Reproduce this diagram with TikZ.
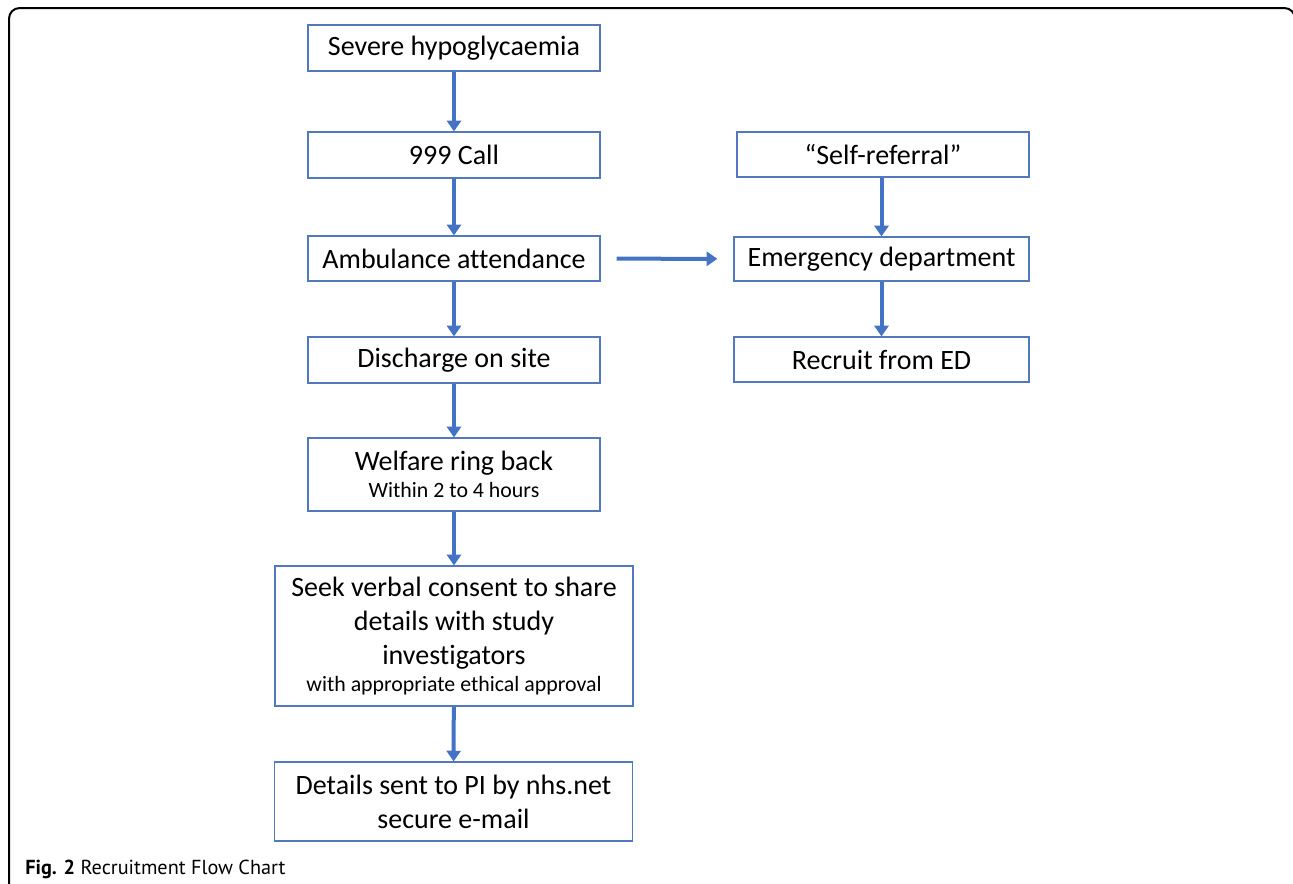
\documentclass[tikz,border=0pt]{standalone}
\usepackage{fontspec}
\setmainfont{Carlito}[Ligatures={TeX,NoCommon}]
\newfontfamily\capfont{PT Sans}
\usetikzlibrary{arrows.meta,positioning}
\definecolor{flowBlue}{RGB}{68,114,196}
\definecolor{boxLine}{RGB}{82,120,190}
\newcommand{\subtxt}{\fontsize{16.4}{18}\selectfont}
\tikzset{recpanel/.style={
  x=0.75pt, y=-0.75pt,
  box/.style={draw=boxLine, line width=0.9pt, fill=white, inner sep=0pt, align=center,
              font=\fontsize{21}{25.5}\selectfont, minimum width=219pt, minimum height=34.5pt},
  flow/.style={-{Triangle[length=8pt, width=10.5pt]}, line width=3pt, flowBlue},
  frame/.style={line width=1.5pt, rounded corners=8pt},
}}

\begin{document}
\begin{tikzpicture}[recpanel]
\useasboundingbox (0,0) rectangle (1293,883);
% ---- outer frame ----
\draw[frame] (9,8) rectangle (1295,920);

% ---- main column ----
\node[box] (severe)    at (454,48)    {Severe hypoglycaemia};
\node[box] (call)      at (454,155)   {999 Call};
\node[box, minimum height=33.75pt] (ambulance) at (454,258.5) {Ambulance attendance};
\node[box] (discharge) at (454,360)   {Discharge on site};
\node[box, minimum height=54.75pt] (welfare) at (454,474.5)
  {Welfare ring back\\[-5pt]{\subtxt Within 2 to 4 hours}};
\node[box, minimum width=268.5pt, minimum height=105pt] (consent) at (454,636)
  {Seek verbal consent to share\\ details with study\\ investigators\\[-5pt]{\subtxt with appropriate ethical approval}};
\node[box, minimum width=269pt, minimum height=59.25pt] (details) at (453.5,801.5)
  {Details sent to PI by nhs.net\\ secure e-mail};

% ---- ED column ----
\node[box, minimum height=33.75pt] (selfref) at (883,154.5) {``Self-referral''};
\node[box, minimum width=221.25pt, minimum height=33pt] (emergency) at (881.5,259) {Emergency department};
\node[box, minimum width=221.25pt, minimum height=33.75pt] (recruit) at (881.5,359.5) {Recruit from ED};

% ---- connectors ----
\draw[flow] (severe) -- (call);
\draw[flow] (call) -- (ambulance);
\draw[flow] (ambulance) -- (discharge);
\draw[flow] (discharge) -- (welfare);
\draw[flow] (welfare) -- (consent);
\draw[flow] (consent) -- (details);
\draw[flow, shorten <=12pt, shorten >=12pt] (ambulance) -- (emergency);
\draw[flow] (selfref.south -| emergency) -- (emergency);
\draw[flow] (emergency) -- (recruit);

% ---- caption ----
\node[anchor=base west, inner sep=0pt, font=\capfont\fontsize{15.2}{18}\selectfont] (caption) at (25,874)
  {\textbf{Fig. 2} Recruitment Flow Chart};
\end{tikzpicture}
\end{document}
